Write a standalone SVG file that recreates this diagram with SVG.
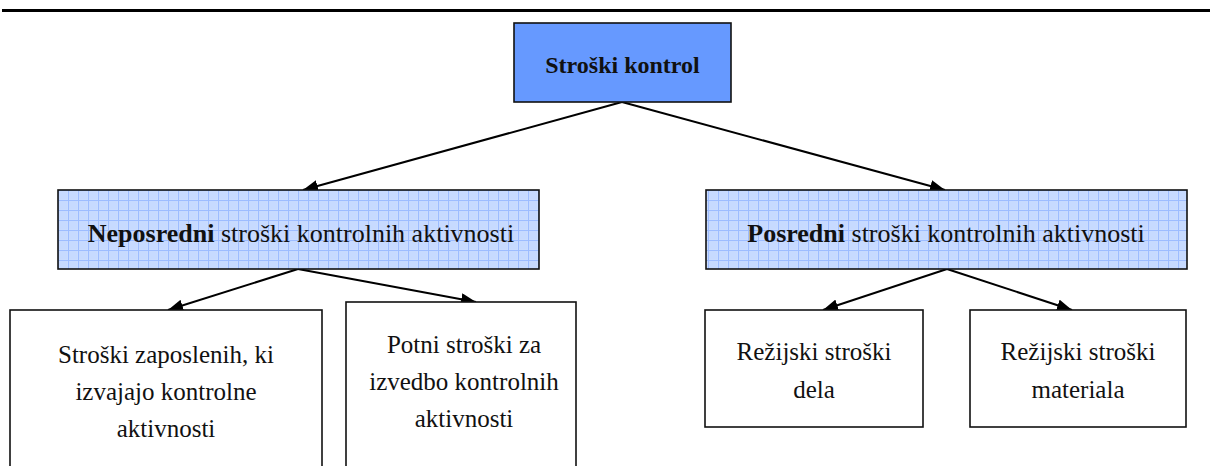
<svg xmlns="http://www.w3.org/2000/svg" width="1210" height="466" viewBox="0 0 1210 466">
<style>
.box{fill:#fff;stroke:#111;stroke-width:1.6}
.top{fill:#6699ff;stroke:#111;stroke-width:1.6}
.grid{fill:url(#grid);stroke:#111;stroke-width:1.6}
.t{font-family:"Liberation Serif","DejaVu Serif",serif;font-size:25px;fill:#111;text-anchor:middle}
.b{font-weight:bold}
.conn line{stroke:#000;stroke-width:2;marker-end:url(#arr)}
</style>
<defs>
<pattern id="grid" patternUnits="userSpaceOnUse" width="10" height="10" x="58" y="190">
<rect width="10" height="10" fill="#cadcff"/>
<rect x="1" y="1" width="8" height="8" fill="#c4d8ff" opacity="0.6"/>
<path d="M0 0.5H10M0.5 0V10" stroke="#9dbcff" stroke-width="1"/>
</pattern>
<marker id="arr" markerUnits="userSpaceOnUse" markerWidth="16" markerHeight="12" refX="15" refY="6" orient="auto">
<path d="M0 0L15 6L0 12z" fill="#000"/>
</marker>
</defs>
<line x1="2" y1="10.5" x2="1210" y2="10.5" stroke="#000" stroke-width="3"/>
<g id="connectors" class="conn">
<line x1="622" y1="102" x2="303" y2="190"/>
<line x1="622" y1="102" x2="945" y2="190"/>
<line x1="298" y1="269" x2="168" y2="310"/>
<line x1="298" y1="269" x2="476" y2="302"/>
<line x1="947" y1="269" x2="823" y2="310"/>
<line x1="947" y1="269" x2="1072" y2="310"/>
</g>
<g id="node-root">
<rect class="top" x="514" y="23" width="217" height="79"/>
<text class="t b" x="622.5" y="73" style="font-size:24px">Stroški kontrol</text>
</g>
<g id="node-neposredni">
<rect class="grid" x="58" y="190" width="481" height="79"/>
<text class="t" x="301" y="242" style="font-size:26px"><tspan class="b">Neposredni</tspan> stroški kontrolnih aktivnosti</text>
</g>
<g id="node-posredni">
<rect class="grid" x="706" y="190" width="481" height="79"/>
<text class="t" x="946" y="242" style="font-size:26px"><tspan class="b">Posredni</tspan> stroški kontrolnih aktivnosti</text>
</g>
<g id="node-zaposleni">
<rect class="box" x="10" y="310" width="312" height="170"/>
<text class="t" x="166" y="363">Stroški zaposlenih, ki</text>
<text class="t" x="166" y="400">izvajajo kontrolne</text>
<text class="t" x="166" y="437">aktivnosti</text>
</g>
<g id="node-potni">
<rect class="box" x="346" y="302" width="230" height="178"/>
<text class="t" x="464" y="353">Potni stroški za</text>
<text class="t" x="464" y="390">izvedbo kontrolnih</text>
<text class="t" x="464" y="427">aktivnosti</text>
</g>
<g id="node-dela">
<rect class="box" x="705" y="310" width="218" height="117"/>
<text class="t" x="814" y="360">Režijski stroški</text>
<text class="t" x="814" y="398">dela</text>
</g>
<g id="node-materiala">
<rect class="box" x="970" y="310" width="216" height="117"/>
<text class="t" x="1078" y="360">Režijski stroški</text>
<text class="t" x="1078" y="398">materiala</text>
</g>
</svg>
